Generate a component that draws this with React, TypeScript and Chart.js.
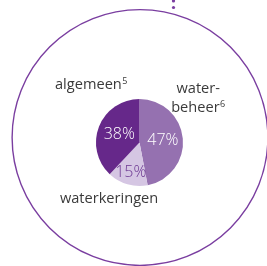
import React, { useEffect, useRef } from "react";
import { Chart, registerables } from "chart.js";

Chart.register(...registerables);

const categories = ["waterbeheer", "waterkeringen", "algemeen"];
const values = [47, 15, 38];
const percentLabels = ["47%", "15%", "38%"];
const outerLabels = [["water-", "beheer"], ["waterkeringen"], ["algemeen"]];
const footnotes = ["6", "", "5"];

const sliceColors = ["#9571b0", "#d5c6e3", "#66288a"];
const pctColors = ["#ffffff", "#6a3490", "#ffffff"];
const pctRadius = [0.54, 0.72, 0.5];
// label anchor offsets relative to pie centre, in units of pie radius
const labelOffsets = [
  [1.35, -1.02],
  [-0.7, 1.3],
  [-1.11, -1.33],
];

const FONT = '"Open Sans", "Noto Sans", sans-serif';

const decorPlugin = {
  id: "decor",
  beforeDatasetsDraw(chart: any) {
    const arc = chart.getDatasetMeta(0).data[0];
    if (!arc) return;
    const ctx = chart.ctx;
    const R = arc.outerRadius;
    const cx = arc.x + 0.5;
    const cy = arc.y - 5;
    const bigR = R * 2.94;
    ctx.save();
    ctx.strokeStyle = "#7a3ea0";
    ctx.lineWidth = 1.4;
    ctx.beginPath();
    ctx.arc(cx, cy, bigR, 0, Math.PI * 2);
    ctx.stroke();
    ctx.fillStyle = "#7a3ea0";
    const dx = cx + 33.5;
    [1, 7.5].forEach((dy) => {
      ctx.beginPath();
      ctx.arc(dx, dy, 1.6, 0, Math.PI * 2);
      ctx.fill();
    });
    ctx.restore();
  },
  afterDatasetsDraw(chart: any) {
    const meta = chart.getDatasetMeta(0);
    const ctx = chart.ctx;
    ctx.save();
    meta.data.forEach((arc: any, i: number) => {
      const mid = (arc.startAngle + arc.endAngle) / 2;
      const R = arc.outerRadius;
      const px = arc.x + Math.cos(mid) * R * pctRadius[i];
      const py = arc.y + Math.sin(mid) * R * pctRadius[i];
      ctx.font = `300 16px ${FONT}`;
      ctx.fillStyle = pctColors[i];
      ctx.textAlign = "center";
      ctx.textBaseline = "middle";
      ctx.fillText(percentLabels[i], px, py);

      const lx = arc.x + labelOffsets[i][0] * R;
      const ly = arc.y + labelOffsets[i][1] * R;
      const lines = outerLabels[i];
      const lh = 19;
      ctx.fillStyle = "#3a3a3a";
      lines.forEach((line: string, j: number) => {
        const y = ly + (j - (lines.length - 1) / 2) * lh;
        ctx.font = `14.6px ${FONT}`;
        const w = ctx.measureText(line).width;
        const isLast = j === lines.length - 1;
        let supW = 0;
        if (isLast && footnotes[i]) {
          ctx.font = `9px ${FONT}`;
          supW = ctx.measureText(footnotes[i]).width + 0.5;
        }
        const total = w + supW;
        const x0 = lx - total / 2;
        ctx.font = `14.6px ${FONT}`;
        ctx.textAlign = "left";
        ctx.textBaseline = "middle";
        ctx.fillText(line, x0, y);
        if (isLast && footnotes[i]) {
          ctx.font = `9px ${FONT}`;
          ctx.fillText(footnotes[i], x0 + w + 0.5, y - 3);
        }
      });
    });
    ctx.restore();
  },
};

export default function App() {
  const ref = useRef<HTMLCanvasElement | null>(null);
  useEffect(() => {
    if (!ref.current) return;
    const chart = new Chart(ref.current, {
      type: "pie",
      data: {
        labels: categories,
        datasets: [
          {
            data: values,
            backgroundColor: sliceColors,
            borderWidth: 0,
          },
        ],
      },
      options: {
        responsive: false,
        animation: false,
        layout: { padding: { left: 96, right: 84, top: 99, bottom: 80 } },
        plugins: {
          legend: { display: false },
          tooltip: { enabled: false },
        },
      },
      plugins: [decorPlugin],
    });
    return () => chart.destroy();
  }, []);
  return (
    <div style={{ position: "fixed", left: 0, top: 0, width: 267, height: 266, background: "#fff" }}>
      <canvas ref={ref} width={267} height={266} />
    </div>
  );
}
